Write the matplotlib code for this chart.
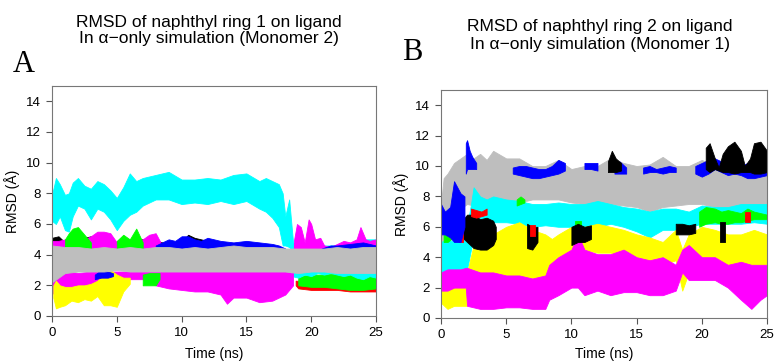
import matplotlib
matplotlib.use("Agg")
import matplotlib.pyplot as plt

# ---- panel A: ring 1, monomer 2 (bands = lower / upper edge of each point cloud)
a_cyan1_t = [0, 0.3, 0.6, 1.0, 1.3, 1.6, 2.0, 2.5, 3.0, 3.5, 4.0, 4.5, 5.0, 5.5, 6.0, 6.5, 7.0,
             8.0, 9.0, 10.0, 11.0, 12.0, 13.0, 14.0, 15.0, 16.0, 16.5, 17.0, 17.5, 17.8, 18.0, 18.3, 18.6]
a_cyan1_lo = [6.2, 6.0, 6.5, 5.6, 5.5, 6.5, 7.2, 7.0, 6.3, 7.0, 6.8, 6.3, 5.6, 6.2, 6.6, 6.8, 7.2,
              7.6, 7.6, 7.3, 7.4, 7.3, 7.5, 7.3, 7.5, 7.0, 6.8, 6.4, 5.8, 4.6, 4.6, 4.5, 4.2]
a_cyan1_hi = [7.9, 9.0, 8.6, 7.9, 8.0, 8.7, 9.0, 8.5, 8.3, 8.8, 8.6, 8.2, 7.7, 8.4, 9.3, 8.8, 9.0,
              9.2, 9.4, 8.9, 8.9, 9.0, 8.9, 9.2, 9.3, 8.8, 9.0, 8.8, 8.6, 8.0, 6.5, 7.6, 4.8]
a_cyan2_t = [18.5, 19, 19.5, 20, 20.5, 21, 21.5, 22, 22.5, 23, 23.5, 24, 24.5, 25]
a_cyan2_lo = [2.6, 2.5, 2.7, 2.6, 2.8, 2.7, 2.8, 2.7, 2.6, 2.7, 2.5, 2.4, 2.6, 2.5]
a_cyan2_hi = [4.8, 4.6, 4.6, 4.6, 4.6, 4.6, 4.6, 4.6, 4.7, 4.7, 4.8, 5.0, 5.0, 5.0]

a_gray_t = list(range(26))
a_gray_lo = [2.2, 2.8, 2.9, 2.9, 2.9, 3.0, 2.9, 2.9, 2.9, 2.9, 2.9, 2.9, 2.9,
             2.9, 2.9, 2.9, 2.9, 2.9, 2.9, 2.8, 2.9, 2.9, 2.8, 2.8, 2.8, 2.8]
a_gray_hi = [4.6, 4.5, 4.5, 4.4, 4.5, 4.4, 4.5, 4.4, 4.5, 4.5, 4.4, 4.5, 4.4,
             4.5, 4.6, 4.5, 4.5, 4.5, 4.4, 4.4, 4.4, 4.4, 4.5, 4.4, 4.5, 4.5]

a_mag_up1_t = [0, 0.5, 1, 1.5, 2, 2.5, 3, 3.5, 4, 4.5, 5, 5.5, 6, 6.5, 7, 7.5, 8, 8.5]
a_mag_up1_lo = [4.2] * 18
a_mag_up1_hi = [4.9, 4.9, 5.0, 4.9, 4.9, 5.0, 5.2, 5.5, 5.5, 5.4, 4.8, 4.9, 5.0, 4.8, 5.0, 5.3, 5.4, 4.6]
a_mag_up2_t = [18.6, 18.9, 19.2, 19.5, 19.8, 20.0, 20.3, 20.7, 21.0, 21.5, 22, 22.5, 23, 23.5, 23.8, 24.2, 24.5, 25]
a_mag_up2_lo = [4.2] * 18
a_mag_up2_hi = [4.6, 6.0, 5.8, 4.8, 6.3, 6.0, 5.0, 5.1, 4.6, 4.5, 4.7, 4.9, 4.8, 5.0, 5.8, 5.0, 4.9, 5.0]
a_mag_lo_t = [0, 0.3, 1, 1.5, 2, 3, 4, 5, 6, 7, 8, 9, 10, 11, 12, 13, 13.5, 14, 15, 16, 17, 18, 18.6]
a_mag_lo_lo = [1.5, 1.4, 1.7, 1.8, 1.9, 2.0, 2.2, 2.3, 2.4, 2.4, 2.0, 1.8, 1.7, 1.6, 1.6, 1.4, 0.8,
               1.2, 1.2, 0.9, 1.0, 1.4, 2.0]
a_mag_lo_hi = [2.9, 2.8, 2.8, 2.9, 2.8, 2.9, 2.9, 2.9, 2.9, 2.9, 3.0, 3.1, 3.0, 3.0, 3.0, 3.0, 2.9,
               3.0, 3.0, 3.0, 3.0, 2.9, 2.8]

a_yel_t = [0.1, 0.3, 0.6, 1.0, 1.5, 2.0, 2.5, 3.0, 3.5, 4.0, 4.5, 5.0, 5.5, 6.0]
a_yel_lo = [1.2, 0.5, 0.6, 0.7, 1.0, 0.9, 1.1, 1.0, 1.3, 0.7, 0.7, 0.6, 1.6, 2.1]
a_yel_hi = [2.0, 2.3, 2.0, 1.9, 1.9, 2.0, 2.0, 2.1, 2.3, 2.8, 3.0, 2.7, 2.5, 2.5]

a_blk_t = [0, 0.5, 1, 1.5, 2, 2.5, 3, 3.5, 4, 5, 6, 6.5, 7, 7.5, 8, 8.5, 9, 9.5, 10, 10.5, 11, 11.5, 12, 12.5]
a_blk_lo = [4.3] * 24
a_blk_hi = [5.1, 5.2, 4.8, 4.8, 4.9, 5.1, 5.2, 4.8, 4.7, 4.8, 4.9, 5.0, 5.0, 4.8, 4.9, 4.8, 4.7, 4.7,
            4.8, 5.3, 5.1, 5.0, 4.9, 4.6]

a_grn_up1_t = [1.0, 1.3, 1.6, 2.0, 2.3, 2.6, 3.0]
a_grn_up1_lo = [4.2, 4.1, 4.2, 4.3, 4.2, 4.3, 4.4]
a_grn_up1_hi = [5.0, 5.4, 5.7, 5.8, 5.5, 5.2, 4.8]
a_grn_up2_t = [5.0, 5.5, 6.0, 6.5, 7.0]
a_grn_up2_lo = [4.3] * 5
a_grn_up2_hi = [4.9, 5.3, 5.0, 5.7, 4.8]
a_grn_lo1_t = [7.0, 7.5, 8.0, 8.3]
a_grn_lo1_lo = [2.0, 2.0, 2.0, 2.4]
a_grn_lo1_hi = [2.7, 2.8, 2.8, 2.8]
a_grn_lo2_t = [19, 20, 21, 22, 23, 24, 25]
a_grn_lo2_lo = [2.0, 1.9, 1.9, 1.8, 1.7, 1.7, 1.8]
a_grn_lo2_hi = [2.6, 2.7, 2.7, 2.8, 2.8, 2.7, 2.6]

a_blu_up1_t = [8, 8.5, 9, 9.5, 10, 10.5, 11, 11.5, 12, 13, 14, 15, 16, 17, 17.5, 18]
a_blu_up1_lo = [4.2] * 16
a_blu_up1_hi = [4.6, 4.8, 5.0, 4.9, 5.2, 5.2, 5.0, 4.9, 5.1, 4.9, 4.8, 4.9, 4.8, 4.7, 4.6, 4.4]
a_blu_up2_t = [20.8, 21.5, 22, 23, 24, 24.5, 25]
a_blu_up2_lo = [4.2] * 7
a_blu_up2_hi = [4.4, 4.6, 4.6, 4.7, 4.8, 4.7, 4.6]
a_blu_lo_t = [3.3, 3.8, 4.3, 4.7]
a_blu_lo_lo = [2.4, 2.5, 2.5, 2.6]
a_blu_lo_hi = [2.7, 3.0, 2.9, 2.8]

a_red_t = [18.8, 19, 20, 21, 22, 23, 24, 25]
a_red_lo = [2.0, 1.8, 1.7, 1.7, 1.7, 1.6, 1.6, 1.6]
a_red_hi = [2.3, 2.3, 2.3, 2.2, 2.2, 2.2, 2.2, 2.2]

# ---- panel B: ring 2, monomer 1
b_gray_t = [0, 0.2, 0.5, 1, 1.5, 2, 2.5, 3, 3.5, 4, 5, 6, 7, 8, 9, 10, 11, 12, 13, 14, 15, 16,
            17, 18, 19, 20, 21, 22, 23, 24, 25]
b_gray_lo = [3.5, 5.0, 6.5, 7.0, 7.2, 7.5, 7.4, 7.2, 7.3, 7.4, 7.5, 7.6, 7.8, 7.8, 7.8, 7.6, 7.5,
             7.4, 7.5, 7.4, 7.3, 7.0, 7.3, 7.4, 7.5, 7.5, 7.3, 7.3, 7.3, 7.3, 7.4]
b_gray_hi = [7.5, 9.2, 9.5, 10.2, 10.5, 10.8, 10.5, 10.8, 10.4, 11.0, 10.5, 10.5, 10.0, 10.0, 10.4,
             9.8, 10.0, 10.0, 10.5, 10.2, 10.0, 10.1, 10.6, 10.0, 10.0, 10.4, 10.0, 10.0, 9.8, 9.8, 9.6]

b_cyan_t = [0, 0.5, 1, 1.5, 2, 2.3, 2.5, 3, 3.5, 4, 5, 6, 7, 8, 9, 10, 11, 12, 13, 14, 15, 16,
            17, 18, 19, 20, 21, 22, 23, 24, 25]
b_cyan_lo = [2.5, 2.8, 3.0, 3.0, 3.2, 4.5, 5.8, 6.0, 6.2, 6.3, 6.3, 6.2, 6.0, 6.1, 6.0, 6.0, 6.0,
             6.0, 6.2, 6.0, 5.7, 5.3, 5.8, 5.8, 6.0, 6.2, 6.2, 6.2, 6.2, 6.3, 6.2]
b_cyan_hi = [5.0, 5.2, 5.0, 5.5, 6.0, 7.5, 8.6, 8.0, 7.8, 8.0, 7.8, 7.7, 7.5, 7.5, 7.6, 7.5, 7.5,
             7.7, 7.5, 7.3, 7.2, 7.0, 7.2, 7.2, 7.0, 7.4, 7.3, 7.3, 7.5, 7.5, 7.5]

b_grn1_t = [0.2, 0.5, 0.8, 1.1]
b_grn1_lo = [5.0, 5.0, 5.2, 5.5]
b_grn1_hi = [5.8, 6.3, 6.2, 5.8]
b_grn2_t = [5.8, 6.1, 6.4]
b_grn2_lo = [7.4, 7.5, 7.6]
b_grn2_hi = [7.8, 8.0, 7.8]
b_grn3_t = [10.3, 10.7]
b_grn3_lo = [6.0, 6.0]
b_grn3_hi = [6.4, 6.4]
b_grn4_t = [19.8, 20.3, 21, 21.5, 22, 22.5, 23, 23.5, 24, 24.5, 25]
b_grn4_lo = [6.0, 6.2, 6.3, 6.2, 6.2, 6.3, 6.3, 6.4, 6.5, 6.5, 6.5]
b_grn4_hi = [7.0, 7.3, 7.2, 7.0, 7.1, 7.0, 6.9, 7.2, 7.0, 6.9, 6.8]

b_red1_t = [1.4, 1.7]
b_red1_lo = [5.0, 5.0]
b_red1_hi = [6.0, 6.0]
b_red2_t = [2.3, 2.7, 3.1, 3.5]
b_red2_lo = [6.7, 6.6, 6.7, 6.8]
b_red2_hi = [7.2, 7.1, 7.0, 7.2]
b_red3_t = [6.8, 7.2]
b_red3_lo = [5.4, 5.4]
b_red3_hi = [6.1, 6.1]
b_red4_t = [23.3, 23.7]
b_red4_lo = [6.3, 6.3]
b_red4_hi = [7.0, 7.0]

b_blk1_t = [1.0, 1.5, 2.0, 2.5, 3.0, 3.5, 4.0, 4.2]
b_blk1_lo = [5.6, 5.4, 5.0, 4.6, 4.5, 4.5, 4.8, 5.2]
b_blk1_hi = [6.0, 6.3, 6.8, 6.8, 6.5, 6.6, 6.4, 6.0]
b_blk2_t = [6.6, 7.0, 7.4]
b_blk2_lo = [4.6, 4.5, 5.0]
b_blk2_hi = [6.2, 6.0, 6.0]
b_blk3_t = [10.0, 10.5, 11, 11.5]
b_blk3_lo = [4.8, 5.0, 5.0, 5.2]
b_blk3_hi = [6.0, 6.2, 6.0, 6.1]
b_blk4_t = [18, 18.5, 19, 19.5]
b_blk4_lo = [5.5, 5.5, 5.5, 5.6]
b_blk4_hi = [6.2, 6.2, 6.1, 6.2]
b_blk5_t = [21.4, 21.8]
b_blk5_lo = [5.0, 5.0]
b_blk5_hi = [6.3, 6.3]
b_blk6_t = [12.8, 13.1, 13.4, 13.8]
b_blk6_lo = [9.6, 9.6, 9.6, 9.7]
b_blk6_hi = [10.3, 11.0, 10.5, 10.2]
b_blk7_t = [20.3, 20.6, 21.0, 21.3, 21.6, 22.0, 22.5, 23.0, 23.3, 23.7, 24.0, 24.5, 25.0]
b_blk7_lo = [9.8, 9.6, 9.8, 9.7, 9.6, 9.6, 9.5, 9.6, 9.6, 9.6, 9.5, 9.5, 9.6]
b_blk7_hi = [11.2, 11.5, 10.5, 9.9, 10.8, 11.3, 11.6, 11.0, 10.0, 10.5, 11.5, 11.6, 11.0]

b_yel_t = [0, 0.5, 1, 1.5, 2, 2.5, 3, 4, 5, 6, 7, 8, 8.5, 9, 10, 11, 12, 13, 14, 15, 16, 17, 18,
           18.5, 19, 20, 21, 22, 23, 24, 25]
b_yel_lo = [1.0, 0.6, 0.8, 0.8, 0.8, 2.5, 2.5, 2.6, 2.5, 2.5, 2.3, 2.2, 3.0, 4.0, 4.5, 4.5, 4.3,
            4.3, 4.0, 4.0, 3.5, 3.5, 3.8, 1.8, 3.0, 3.0, 2.5, 3.0, 2.5, 3.0, 3.0]
b_yel_hi = [2.6, 2.5, 2.5, 3.2, 3.0, 4.8, 5.0, 5.5, 6.0, 6.3, 5.8, 5.5, 5.2, 5.5, 6.0, 6.0, 6.2,
            6.0, 5.8, 5.5, 5.3, 5.0, 5.8, 4.5, 5.5, 6.0, 5.8, 5.5, 5.5, 5.8, 5.5]

b_mag_t = [0, 0.5, 1, 1.5, 1.9, 2.0, 3, 4, 5, 6, 7, 8, 8.3, 9, 10, 10.5, 11, 12, 13, 14, 15, 16,
           17, 18, 18.5, 19, 20, 21, 22, 23, 23.8, 24.5, 25]
b_mag_lo = [1.8, 1.8, 2.0, 2.0, 2.0, 0.8, 0.6, 0.6, 0.7, 0.7, 0.6, 0.6, 1.2, 1.5, 2.0, 2.0, 1.5,
            1.8, 1.5, 1.7, 1.7, 1.5, 1.5, 1.8, 3.0, 2.5, 2.5, 2.5, 2.0, 1.2, 0.6, 1.2, 1.5]
b_mag_hi = [3.0, 3.2, 3.2, 3.2, 3.3, 3.3, 3.0, 3.0, 2.8, 2.8, 2.6, 2.8, 3.5, 4.0, 4.5, 5.5, 4.5,
            4.2, 4.2, 4.5, 4.0, 3.8, 4.0, 3.5, 4.5, 4.8, 4.0, 4.0, 3.5, 3.7, 3.5, 3.5, 3.5]

b_blu1_t = [0, 0.3, 0.7, 1.0, 1.5, 1.8]
b_blu1_lo = [5.5, 5.5, 5.3, 5.0, 5.0, 6.0]
b_blu1_hi = [7.5, 7.0, 7.3, 9.0, 8.2, 8.0]
b_blu2_t = [1.9, 2.0, 2.2, 2.4, 2.7]
b_blu2_lo = [9.5, 9.8, 9.8, 9.8, 9.8]
b_blu2_hi = [11.5, 11.7, 11.0, 10.6, 10.2]
b_blu3_t = [5.5, 6, 6.5, 7, 7.5, 8, 8.5, 9, 9.5]
b_blu3_lo = [9.5, 9.4, 9.3, 9.2, 9.2, 9.3, 9.4, 9.5, 9.7]
b_blu3_hi = [9.9, 10.0, 10.0, 9.9, 9.8, 9.8, 10.0, 10.4, 10.2]
b_blu4_t = [11, 11.5, 12]
b_blu4_lo = [9.8, 9.8, 9.7]
b_blu4_hi = [10.2, 10.2, 10.2]
b_blu5_t = [13.3, 13.7, 14.2]
b_blu5_lo = [9.5, 9.5, 9.5]
b_blu5_hi = [10.0, 10.3, 9.9]
b_blu6_t = [15.5, 16, 16.5, 17, 17.5, 18]
b_blu6_lo = [9.5, 9.6, 9.6, 9.5, 9.6, 9.6]
b_blu6_hi = [9.9, 10.0, 9.8, 9.9, 10.0, 9.9]
b_blu7_t = [19.5, 20, 20.5, 21, 21.5, 22, 22.5, 23, 23.5, 24, 24.5, 25]
b_blu7_lo = [9.5, 9.3, 9.5, 9.8, 9.6, 9.4, 9.5, 9.4, 9.2, 9.2, 9.3, 9.4]
b_blu7_hi = [10.0, 10.2, 10.4, 10.5, 10.3, 10.2, 10.0, 10.0, 10.2, 10.4, 10.4, 10.0]

x_ticks = [0, 5, 10, 15, 20, 25]
y_ticks = [0, 2, 4, 6, 8, 10, 12, 14]

CYAN, MAG, YEL, GRAY = "#00ffff", "#ff00ff", "#ffff00", "#bebebe"
BLUE, GRN, RED, BLK = "#0000ff", "#00ff00", "#ff0000", "#000000"

# drawing order, first is at the bottom
bands_a = [
    (a_red_t, a_red_lo, a_red_hi, RED),
    (a_grn_lo2_t, a_grn_lo2_lo, a_grn_lo2_hi, GRN),
    (a_cyan2_t, a_cyan2_lo, a_cyan2_hi, CYAN),
    (a_mag_lo_t, a_mag_lo_lo, a_mag_lo_hi, MAG),
    (a_yel_t, a_yel_lo, a_yel_hi, YEL),
    (a_grn_lo1_t, a_grn_lo1_lo, a_grn_lo1_hi, GRN),
    (a_blu_lo_t, a_blu_lo_lo, a_blu_lo_hi, BLUE),
    (a_blk_t, a_blk_lo, a_blk_hi, BLK),
    (a_mag_up1_t, a_mag_up1_lo, a_mag_up1_hi, MAG),
    (a_mag_up2_t, a_mag_up2_lo, a_mag_up2_hi, MAG),
    (a_grn_up1_t, a_grn_up1_lo, a_grn_up1_hi, GRN),
    (a_grn_up2_t, a_grn_up2_lo, a_grn_up2_hi, GRN),
    (a_blu_up1_t, a_blu_up1_lo, a_blu_up1_hi, BLUE),
    (a_blu_up2_t, a_blu_up2_lo, a_blu_up2_hi, BLUE),
    (a_cyan1_t, a_cyan1_lo, a_cyan1_hi, CYAN),
    (a_gray_t, a_gray_lo, a_gray_hi, GRAY),
]
bands_b = [
    (b_gray_t, b_gray_lo, b_gray_hi, GRAY),
    (b_cyan_t, b_cyan_lo, b_cyan_hi, CYAN),
    (b_grn1_t, b_grn1_lo, b_grn1_hi, GRN),
    (b_grn2_t, b_grn2_lo, b_grn2_hi, GRN),
    (b_grn3_t, b_grn3_lo, b_grn3_hi, GRN),
    (b_grn4_t, b_grn4_lo, b_grn4_hi, GRN),
    (b_yel_t, b_yel_lo, b_yel_hi, YEL),
    (b_mag_t, b_mag_lo, b_mag_hi, MAG),
    (b_blk1_t, b_blk1_lo, b_blk1_hi, BLK),
    (b_blk2_t, b_blk2_lo, b_blk2_hi, BLK),
    (b_blk3_t, b_blk3_lo, b_blk3_hi, BLK),
    (b_blk4_t, b_blk4_lo, b_blk4_hi, BLK),
    (b_blk5_t, b_blk5_lo, b_blk5_hi, BLK),
    (b_red1_t, b_red1_lo, b_red1_hi, RED),
    (b_red2_t, b_red2_lo, b_red2_hi, RED),
    (b_red3_t, b_red3_lo, b_red3_hi, RED),
    (b_red4_t, b_red4_lo, b_red4_hi, RED),
    (b_blu1_t, b_blu1_lo, b_blu1_hi, BLUE),
    (b_blu2_t, b_blu2_lo, b_blu2_hi, BLUE),
    (b_blu3_t, b_blu3_lo, b_blu3_hi, BLUE),
    (b_blu4_t, b_blu4_lo, b_blu4_hi, BLUE),
    (b_blu5_t, b_blu5_lo, b_blu5_hi, BLUE),
    (b_blu6_t, b_blu6_lo, b_blu6_hi, BLUE),
    (b_blu7_t, b_blu7_lo, b_blu7_hi, BLUE),
    (b_blk6_t, b_blk6_lo, b_blk6_hi, BLK),
    (b_blk7_t, b_blk7_lo, b_blk7_hi, BLK),
]

plt.rcParams['font.family'] = ['Liberation Sans', 'DejaVu Sans']

fig = plt.figure(figsize=(7.75, 3.62), dpi=100)
ax_a = fig.add_axes([52 / 775, 46 / 362, 324 / 775, 230 / 362])
ax_b = fig.add_axes([441 / 775, 44 / 362, 326 / 775, 228 / 362])


def style(ax, xpad):
    ax.set_xlim(0, 25)
    ax.set_ylim(0, 15)
    ax.set_xticks(x_ticks)
    ax.set_yticks(y_ticks)
    ax.tick_params(direction='out', length=4, width=0.8, color='#555555',
                   labelsize=9.5, pad=4)
    for s in ax.spines.values():
        s.set_color('#777777')
        s.set_linewidth(0.8)
    ax.set_xlabel("Time (ns)", fontsize=10, labelpad=xpad)
    ax.set_ylabel("RMSD (Å)", fontsize=10, labelpad=4)


for ax, bands, xpad in ((ax_a, bands_a, 5.5), (ax_b, bands_b, 4)):
    for t, lo, hi, c in bands:
        ax.fill_between(t, lo, hi, color=c, lw=0.6, edgecolor=c)
    style(ax, xpad)

title_kw = dict(ha='center', va='center', fontsize=12.5)
fig.text(209 / 775, 1 - 22 / 362, "RMSD of naphthyl ring 1 on ligand", **title_kw)
fig.text(209 / 775, 1 - 39 / 362, "In α−only simulation (Monomer 2)", **title_kw)
fig.text(600 / 775, 1 - 27 / 362, "RMSD of naphthyl ring 2 on ligand", **title_kw)
fig.text(600 / 775, 1 - 44 / 362, "In α−only simulation (Monomer 1)", **title_kw)
letter_kw = dict(ha='center', va='center', fontsize=22, family=['Liberation Serif', 'DejaVu Serif'])
fig.text(24 / 775, 1 - 65 / 362, "A", **letter_kw)
fig.text(412 / 775, 1 - 53 / 362, "B", **letter_kw)

fig.savefig("out.png", dpi=100)
